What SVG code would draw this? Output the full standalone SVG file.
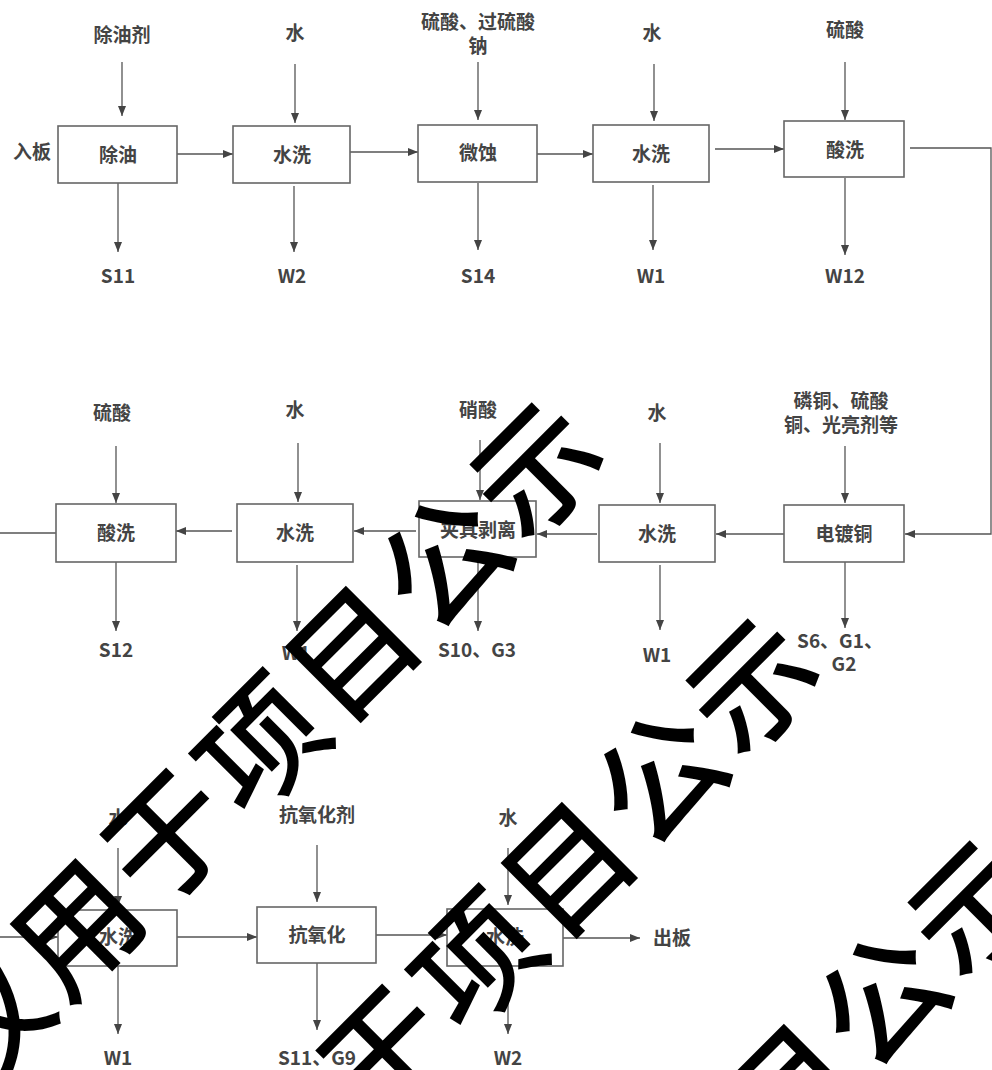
<svg xmlns="http://www.w3.org/2000/svg" width="992" height="1070" viewBox="0 0 992 1070">
<defs>
<marker id="ah" viewBox="0 0 10 8" refX="10" refY="4" markerWidth="10" markerHeight="8" markerUnits="userSpaceOnUse" orient="auto">
<path d="M0,0 L10,4 L0,8 z" fill="#444"/>
</marker>
<style>
.box{fill:#fff;stroke:#666;stroke-width:1.6}
.ln{fill:none;stroke:#555;stroke-width:1.3}
.ar{fill:none;stroke:#555;stroke-width:1.3;marker-end:url(#ah)}
text{font-family:"Noto Sans CJK SC","Noto Sans",sans-serif;font-size:19px;font-weight:bold;fill:#444;text-anchor:middle}
.wm{font-family:"Noto Sans CJK SC",sans-serif;font-size:125px;font-weight:500;fill:#000;text-anchor:start;letter-spacing:5px}
</style>
</defs>
<rect width="992" height="1070" fill="#fff"/>
<g id="connectors">
<path class="ar" d="M122,62 V116"/>
<path class="ar" d="M295,64 V123"/>
<path class="ar" d="M478,62 V120"/>
<path class="ar" d="M654,64 V121"/>
<path class="ar" d="M845,62 V120"/>
<path class="ar" d="M118,183 V252"/>
<path class="ar" d="M294,186 V252"/>
<path class="ar" d="M478,183 V250"/>
<path class="ar" d="M653,185 V250"/>
<path class="ar" d="M845,178 V255"/>
<path class="ar" d="M177,154 H233"/>
<path class="ar" d="M350,152 H418"/>
<path class="ar" d="M537,154 H593"/>
<path class="ar" d="M715,149 H784"/>
<path class="ar" d="M910,148 H991 V534 H905"/>
<path class="ar" d="M116,446 V503"/>
<path class="ar" d="M298,443 V502"/>
<path class="ar" d="M480,440 V500"/>
<path class="ar" d="M660,443 V503"/>
<path class="ar" d="M845,446 V503"/>
<path class="ar" d="M116,562 V631"/>
<path class="ar" d="M297,565 V631"/>
<path class="ar" d="M478,557 V631"/>
<path class="ar" d="M660,565 V630"/>
<path class="ar" d="M845,562 V628"/>
<path class="ar" d="M232,531 H176"/>
<path class="ar" d="M416,531 H354"/>
<path class="ar" d="M597,534 H537"/>
<path class="ar" d="M784,534 H716"/>
<path class="ln" d="M0,533 H56"/>
<path class="ar" d="M118,848 V906"/>
<path class="ar" d="M317,845 V902"/>
<path class="ar" d="M508,848 V905"/>
<path class="ar" d="M118,966 V1034"/>
<path class="ar" d="M317,963 V1030"/>
<path class="ar" d="M508,966 V1034"/>
<path class="ar" d="M0,937 H58"/>
<path class="ar" d="M177,937 H257"/>
<path class="ar" d="M376,935 H447"/>
<path class="ar" d="M563,938 H640"/>
</g>
<g id="labels">
<text x="32" y="159">入板</text>
<text x="122" y="42">除油剂</text>
<text x="295" y="40">水</text>
<text x="478" y="29">硫酸、过硫酸<tspan x="478" y="53">钠</tspan></text>
<text x="652" y="40">水</text>
<text x="845" y="37">硫酸</text>
<text x="118" y="283">S11</text>
<text x="292" y="283">W2</text>
<text x="478" y="283">S14</text>
<text x="651" y="283">W1</text>
<text x="845" y="283">W12</text>
<text x="112" y="420">硫酸</text>
<text x="295" y="417">水</text>
<text x="478" y="417">硝酸</text>
<text x="657" y="420">水</text>
<text x="841" y="408">磷铜、硫酸<tspan x="841" y="432">铜、光亮剂等</tspan></text>
<text x="116" y="657">S12</text>
<text x="296" y="660">W1</text>
<text x="477" y="657">S10、G3</text>
<text x="657" y="662">W1</text>
<text x="840" y="648">S6、G1、<tspan x="844" y="671">G2</tspan></text>
<text x="118" y="825">水</text>
<text x="317" y="822">抗氧化剂</text>
<text x="508" y="825">水</text>
<text x="118" y="1065">W1</text>
<text x="317" y="1065">S11、G9</text>
<text x="508" y="1065">W2</text>
<text x="672" y="945">出板</text>
</g>
<g id="n1"><rect class="box" x="58" y="126" width="119" height="57"/><text x="118" y="162">除油</text></g>
<g id="n2"><rect class="box" x="233" y="126" width="117" height="57"/><text x="292" y="162">水洗</text></g>
<g id="n3"><rect class="box" x="418" y="125" width="119" height="57"/><text x="478" y="160">微蚀</text></g>
<g id="n4"><rect class="box" x="593" y="125" width="116" height="57"/><text x="651" y="161">水洗</text></g>
<g id="n5"><rect class="box" x="784" y="121" width="120" height="56"/><text x="845" y="157">酸洗</text></g>
<g id="n6"><rect class="box" x="56" y="504" width="120" height="58"/><text x="116" y="540">酸洗</text></g>
<g id="n7"><rect class="box" x="237" y="504" width="116" height="58"/><text x="295" y="540">水洗</text></g>
<g id="n8"><rect class="box" x="419" y="501" width="117" height="56"/><text x="478" y="537">夹具剥离</text></g>
<g id="n9"><rect class="box" x="599" y="505" width="116" height="57"/><text x="657" y="541">水洗</text></g>
<g id="n10"><rect class="box" x="784" y="505" width="120" height="57"/><text x="844" y="541">电镀铜</text></g>
<g id="n11"><rect class="box" x="58" y="910" width="119" height="56"/><text x="118" y="944">水洗</text></g>
<g id="n12"><rect class="box" x="257" y="907" width="119" height="56"/><text x="317" y="942">抗氧化</text></g>
<g id="n13"><rect class="box" x="447" y="909" width="116" height="57"/><text x="505" y="944">水洗</text></g>
<g id="watermark">
<text class="wm" transform="translate(-26.9,1097.5) rotate(-45)">仅用于项目公示</text>
<text class="wm" transform="translate(189.1,1313.5) rotate(-45)">仅用于项目公示</text>
<text class="wm" transform="translate(411.1,1535.5) rotate(-45)">仅用于项目公示</text>
</g>
</svg>
